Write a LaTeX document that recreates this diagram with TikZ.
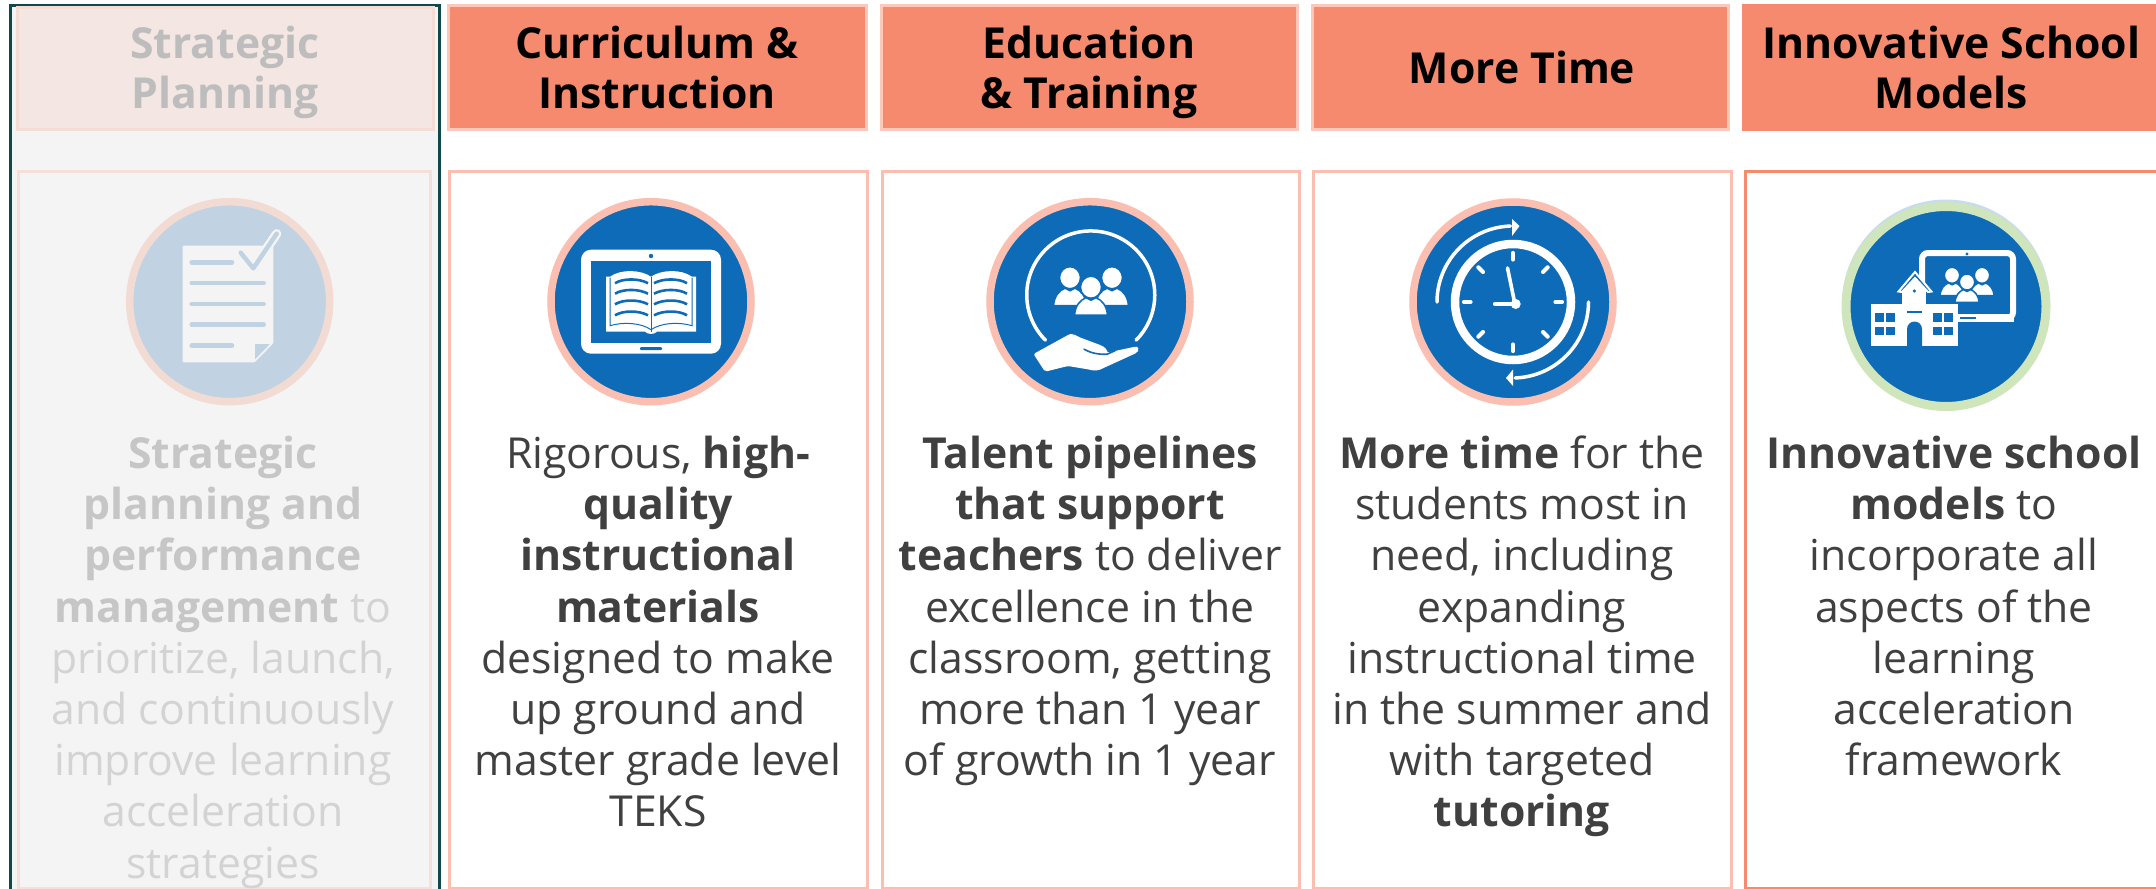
\documentclass[tikz,border=0pt]{standalone}
\usepackage{fontspec}
\setmainfont{Open Sans}
\definecolor{darkedge}{HTML}{0E4A4A}
\definecolor{paleback}{HTML}{F4F4F4}
\definecolor{headfill}{HTML}{F58A6E}
\definecolor{headedge}{HTML}{FBC8BA}
\definecolor{bodyedge}{HTML}{FBBFB0}
\definecolor{fadehead}{HTML}{F4E6E2}
\definecolor{fadeheadedge}{HTML}{F3DDD6}
\definecolor{fadebodyedge}{HTML}{F5DFD8}
\definecolor{fadecircle}{HTML}{C1D3E3}
\definecolor{fadering}{HTML}{F2DBD3}
\definecolor{fadetitle}{HTML}{BDBDBD}
\definecolor{fadebold}{HTML}{C6C6C6}
\definecolor{fadetext}{HTML}{D3D3D3}
\definecolor{iconblue}{HTML}{0E6BB8}
\definecolor{ringpink}{HTML}{FABFB0}
\definecolor{ringgreen}{HTML}{CFE6BC}
\definecolor{ringsky}{HTML}{C9DBEE}
\definecolor{bodytext}{HTML}{404040}
\newcommand{\firstline}{\rule{0pt}{40pt}}
\newcommand{\personicon}[3]{%
  \begin{scope}[shift={(#1,#2)},scale=#3]
    \fill[white,draw=iconblue,line width=1.5pt] (0,0) ellipse [x radius=10.5pt,y radius=11pt];
    \fill[white,draw=iconblue,line width=1.5pt] (-16.5,28) .. controls (-15.5,18) and (-11,13) .. (-5,10.5) -- (0,13) -- (5,10.5) .. controls (11,13) and (15.5,18) .. (16.5,28) -- cycle;
  \end{scope}}
\tikzset{
  x=1pt,y=1pt,
  headbox/.style={fill=headfill,draw=headedge,line width=3pt},
  bodybox/.style={fill=white,draw=bodyedge,line width=3pt},
  headtext/.style={anchor=north,align=center,inner sep=0pt,text=black,font=\fontsize{42.7}{50.7}\selectfont\bfseries},
  bodycopy/.style={anchor=north,align=center,inner sep=0pt,text=bodytext,font=\fontsize{42.7}{51.2}\selectfont},
  ringdisc/.style={circle,inner sep=0pt,outer sep=0pt,minimum size=200pt,line width=7.5pt,draw=ringpink,fill=iconblue},
}
\begin{document}
\begin{tikzpicture}[yscale=-1]
\useasboundingbox (0,0) rectangle (2156,889);
\clip (0,0) rectangle (2156,889);
\fill[white] (0,0) rectangle (2156,889);
% faded column
\draw[fill=paleback,draw=darkedge,line width=2.7pt] (10.3,5.5) rectangle (439.3,900);
\draw[fill=fadehead,draw=fadeheadedge,line width=3pt] (17.5,7) rectangle (433.5,129);
\draw[draw=fadebodyedge,line width=3pt] (18.5,171) rectangle (430,888);
% headers
\draw[headbox] (448.3,5.5) rectangle (866.5,129);
\draw[headbox] (881.5,5.5) rectangle (1297,129);
\draw[headbox] (1312.5,5.5) rectangle (1728.5,129);
\fill[headfill] (1742,4) rectangle (2156,130.7);
% body boxes
\draw[bodybox] (449.5,171) rectangle (867,888);
\draw[bodybox] (882,171) rectangle (1299,888);
\draw[bodybox] (1313,171) rectangle (1731,888);
\draw[bodybox,draw=headfill] (1745,171) rectangle (2170,888);
% header text
\node[headtext,text=fadetitle] (h1) at (225,18) {\firstline Strategic\\Planning};
\node[headtext] (h2) at (657,18) {\firstline Curriculum \&\\Instruction};
\node[headtext] (h3) at (1089,18) {\firstline Education\\\& Training};
\node[headtext] (h4) at (1522,43.3) {\firstline More Time};
\node[headtext] (h5) at (1951.5,18) {\firstline Innovative School\\Models};
% body text
\node[bodycopy,text=fadetext] (b1) at (223,428.3) {\firstline\textcolor{fadebold}{\bfseries Strategic}\\\textcolor{fadebold}{\bfseries planning and}\\\textcolor{fadebold}{\bfseries performance}\\\textcolor{fadebold}{\bfseries management} to\\prioritize, launch,\\and continuously\\improve learning\\acceleration\\strategies};
\node[bodycopy] (b2) at (658,428.3) {\firstline Rigorous, \textbf{high-}\\\textbf{quality}\\\textbf{instructional}\\\textbf{materials}\\designed to make\\up ground and\\master grade level\\TEKS};
\node[bodycopy] (b3) at (1090,428.3) {\firstline\textbf{Talent pipelines}\\\textbf{that support}\\\textbf{teachers} to deliver\\excellence in the\\classroom, getting\\more than 1 year\\of growth in 1 year};
\node[bodycopy] (b4) at (1522,428.3) {\firstline\textbf{More time} for the\\students most in\\need, including\\expanding\\instructional time\\in the summer and\\with targeted\\\textbf{tutoring}};
\node[bodycopy] (b5) at (1954,428.3) {\firstline\textbf{Innovative school}\\\textbf{models} to\\incorporate all\\aspects of the\\learning\\acceleration\\framework};
% icon discs
\node[ringdisc,draw=fadering,fill=fadecircle] (c1) at (229.7,301.7) {};
\node[ringdisc] (c2) at (651,301.7) {};
\node[ringdisc] (c3) at (1090,301.7) {};
\node[ringdisc] (c4) at (1513,302) {};
\fill[ringsky] (1946,303.5) circle [radius=104pt];
\node[ringdisc,draw=ringgreen,minimum size=200pt,line width=9pt] (c5) at (1946,306.5) {};
% document icon
\begin{scope}[shift={(229.7,301.7)}]
  \draw[line cap=round,line width=9pt,white] (23.6,-33.4) -- (47,-68);
  \fill[paleback,rounded corners=1pt] (-47,-56) -- (43.6,-56) -- (43.6,41.6) -- (25,60.6) -- (-47,60.6) -- cycle;
  \fill[fadecircle] (25.5,42.5) -- (40,42.5) -- (25.5,57.5) -- cycle;
  \draw[line cap=round,line width=4.5pt,fadecircle] (-38,-39.4) -- (2.3,-39.4) (-38,-18.7) -- (34,-18.7) (-38,2.3) -- (34,2.3) (-38,23) -- (34,23) (-38,44) -- (2.3,44);
  \draw[line cap=round,line join=round,line width=8.5pt,paleback] (23.6,-33.4) -- (47,-68);
  \draw[line cap=round,line join=round,line width=4.5pt,fadecircle] (11,-49) -- (23.6,-33.4) -- (47,-68);
\end{scope}
% tablet with book
\begin{scope}[shift={(651,301.7)}]
  \fill[white,rounded corners=10pt] (-70,-52) rectangle (70,52);
  \fill[iconblue] (-60,-41) rectangle (60,41);
  \fill[iconblue] (0,-45.7) circle [radius=2.2pt];
  \fill[iconblue,rounded corners=1pt] (-11,45.5) rectangle (11,48.5);
  \fill[white] (-45,-25) -- (-41,-25) .. controls (-30,-33) and (-10,-32) .. (0,-25) .. controls (10,-32) and (30,-33) .. (41,-25) -- (45,-25) -- (45,30) -- (6,30) .. controls (3,33) and (-3,33) .. (-6,30) -- (-45,30) -- cycle;
  \draw[iconblue,line width=1pt] (-41,-24) -- (-41,24) .. controls (-28,20) and (-10,21) .. (0,28) .. controls (10,21) and (28,20) .. (41,24) -- (41,-24);
  \draw[iconblue,line width=1pt] (0,-25) -- (0,30);
  \foreach \dy in {-20.5,-10,0.6,11.6}{
    \draw[iconblue,line width=2.6pt,yshift=\dy pt] (-36,2) .. controls (-28,-3) and (-12,-3) .. (-3,2);
    \draw[iconblue,line width=2.6pt,yshift=\dy pt] (3,2) .. controls (12,-3) and (28,-3) .. (36,2);
  }
\end{scope}
% team and hand
\begin{scope}[shift={(1090,301.7)}]
  \draw[white,line width=3.5pt,line cap=round] (-44.5,38.5) arc (135:405:64pt);
  \personicon{-20}{-24}{1}
  \personicon{22}{-24}{1}
  \personicon{1}{-14.5}{1}
  \fill[white,rounded corners=2pt] (-45,70) -- (-56.5,52.3) -- (-22,33.3) .. controls (-19,32) and (-15,33) .. (-12,35) -- (12,44) .. controls (15,46) and (17,48) .. (17,51) -- (45,45) .. controls (48,45) and (49,48) .. (47,51) -- (12,67) .. controls (8,69) and (4,69) .. (0,68) -- (-22,64.3) -- cycle;
  \draw[iconblue,line width=1.6pt,line cap=round] (-6,47.5) .. controls (0,51) and (8,53) .. (17,52.5) -- (25,49);
\end{scope}
% clock
\begin{scope}[shift={(1513,302)}]
  \draw[white,line width=8.5pt] (0,0) circle [radius=58pt];
  \foreach \a in {0,45,...,315}{
    \draw[white,line width=4.2pt,line cap=round,rotate=\a] (42.5,0) -- (49,0);
  }
  \draw[white,line width=3.6pt,line cap=round] (1.5,0) -- (-5.5,-34);
  \draw[white,line width=4.2pt,line cap=round] (0,2) -- (-18,2);
  \fill[white] (2.7,2) circle [radius=5pt];
  \draw[white,line width=3.5pt,line cap=round] (-76,0) arc (180:268:76pt);
  \fill[white] (-1,-83) -- (6.5,-76) -- (-1,-66) -- cycle;
  \draw[white,line width=3.5pt,line cap=round] (75.5,0) arc (0:88:76pt);
  \fill[white] (-7,76) -- (0,67.5) -- (0,84) -- cycle;
\end{scope}
% school and tablet
\begin{scope}[shift={(1946,306)}]
  \draw[white,line width=6pt,rounded corners=6pt] (-24,-53) rectangle (67,12.3);
  \fill[white] (-25,7.5) rectangle (68,16);
  \fill[iconblue] (21,-52) circle [radius=1.6pt];
  \fill[iconblue] (14,10.7) rectangle (29.5,12.7);
  \personicon{6}{-30.7}{0.73}
  \personicon{36}{-30.7}{0.73}
  \personicon{21}{-24}{0.73}
  \draw[iconblue,line width=1.5pt,fill=white] (-75.3,-2.5) rectangle (11.5,40.5);
  \fill[white] (-75.3,-1.7) rectangle (11.5,40);
  \fill[white] (-43.7,-18) rectangle (-19.6,0);
  \fill[white] (-31,-33) -- (-44,-15) -- (-19,-15) -- cycle;
  \draw[white,line width=2pt,line join=miter,fill=iconblue] (-47.5,-14.5) -- (-31,-34) -- (-14.6,-14.5) -- (-18,-14) -- (-31,-28) -- (-44,-14) -- cycle;
  \fill[iconblue] (-31.6,-15) circle [radius=1.8pt];
  \fill[iconblue] (-39,4.5) rectangle (-24,6.5);
  \foreach \wx in {-71,-60,-13,-2}{
    \foreach \wy in {7,20.5}{
      \fill[iconblue] (\wx,\wy) rectangle ++(9,8.5);
    }
  }
  \fill[iconblue] (-39,40) -- (-39,23) arc (180:360:7.5pt) -- (-24,40) -- cycle;
\end{scope}
\end{tikzpicture}
\end{document}
